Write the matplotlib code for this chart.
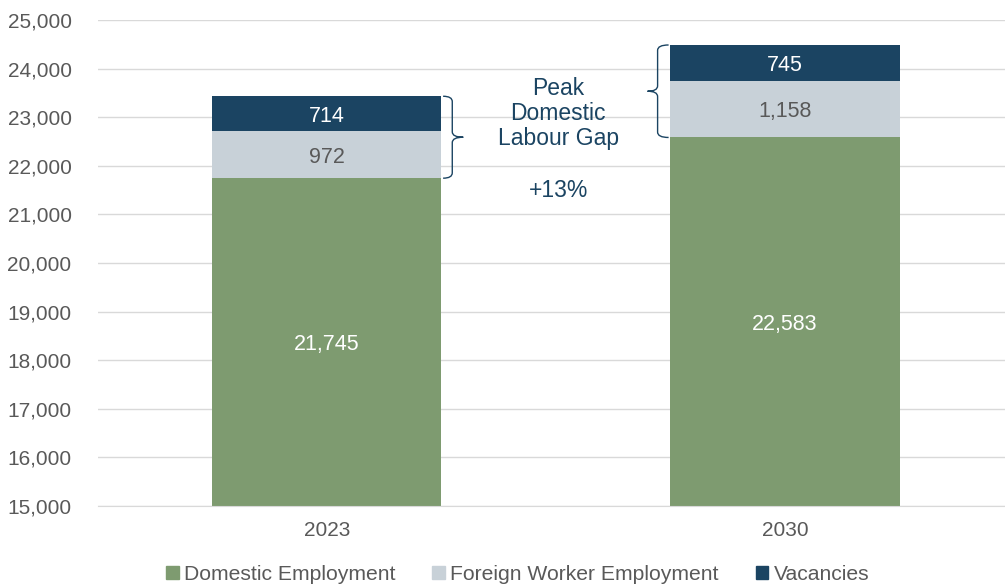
import matplotlib.pyplot as plt
from matplotlib.path import Path
from matplotlib.patches import PathPatch, Patch

plt.rcParams['font.family'] = ['Liberation Sans', 'DejaVu Sans']

years = ['2023', '2030']
domestic = [21745, 22583]
foreign = [972, 1158]
vacancies = [714, 745]
gap_text = 'Peak\nDomestic\nLabour Gap'
growth_text = '+13%'

green = '#7E9B70'
light = '#C8D1D8'
navy = '#1B4462'
grey_txt = '#595959'


def brace(ax, x0, xv, xt, y0, y1, r=110):
    ym = (y0 + y1) / 2
    verts = [(x0, y1), (xv, y1), (xv, y1 - r),
             (xv, ym + r), (xv, ym), (xt, ym),
             (xv, ym), (xv, ym - r),
             (xv, y0 + r), (xv, y0), (x0, y0)]
    codes = [Path.MOVETO, Path.CURVE3, Path.CURVE3,
             Path.LINETO, Path.CURVE3, Path.CURVE3,
             Path.CURVE3, Path.CURVE3,
             Path.LINETO, Path.CURVE3, Path.CURVE3]
    ax.add_patch(PathPatch(Path(verts, codes), fill=False, edgecolor=navy, lw=1.0))


fig = plt.figure(figsize=(10.05, 5.84), dpi=100)
ax = fig.add_axes([98 / 1005, 1 - 506 / 584, 1 - 98 / 1005, 486 / 584])

x = list(range(len(years)))
bottom2 = [d + f for d, f in zip(domestic, foreign)]
w = 0.5
ax.bar(x, domestic, w, color=green, zorder=2)
ax.bar(x, foreign, w, bottom=domestic, color=light, zorder=2)
ax.bar(x, vacancies, w, bottom=bottom2, color=navy, zorder=2)

ymin = 15000
for i in x:
    ax.text(i, (ymin + domestic[i]) / 2, f'{domestic[i]:,}', ha='center', va='center_baseline',
            color='white', fontsize=15.5)
    ax.text(i, domestic[i] + foreign[i] / 2, f'{foreign[i]:,}', ha='center', va='center_baseline',
            color=grey_txt, fontsize=15.5)
    ax.text(i, bottom2[i] + vacancies[i] / 2, f'{vacancies[i]:,}', ha='center', va='center_baseline',
            color='white', fontsize=15.5)

# braces
brace(ax, 0.254, 0.274, 0.298, domestic[0], bottom2[0] + vacancies[0])
brace(ax, 0.746, 0.722, 0.700, domestic[1], bottom2[1] + vacancies[1])

ax.text(0.505, 23070, gap_text, ha='center', va='center', color=navy,
        fontsize=16.5, linespacing=1.1)
ax.text(0.505, 21500, growth_text, ha='center', va='center', color=navy, fontsize=16.5)

ax.set_ylim(ymin, 25000)
ax.set_xlim(-0.499, 1.48)
ax.set_yticks(range(15000, 25001, 1000))
ax.yaxis.set_major_formatter(plt.FuncFormatter(lambda v, p: f'{int(v):,}'))
ax.set_xticks(x)
ax.set_xticklabels(years)
ax.tick_params(length=0, labelsize=15, labelcolor=grey_txt)
ax.tick_params(axis='y', pad=19)
ax.tick_params(axis='x', pad=11)
ax.grid(axis='y', color='#D9D9D9', lw=1, zorder=0)
ax.set_axisbelow(True)
for s in ['top', 'right', 'left']:
    ax.spines[s].set_visible(False)
ax.spines['bottom'].set_color('#D9D9D9')

handles = [Patch(color=green, label='Domestic Employment'),
           Patch(color=light, label='Foreign Worker Employment'),
           Patch(color=navy, label='Vacancies')]
leg = fig.legend(handles=handles, loc='lower center', bbox_to_anchor=(0.515, -0.032), ncol=3,
                 frameon=False, fontsize=15.2, handlelength=0.6, handleheight=0.6,
                 handletextpad=0.25, columnspacing=1.75)
for t in leg.get_texts():
    t.set_color(grey_txt)

fig.savefig('out.png', dpi=100)
